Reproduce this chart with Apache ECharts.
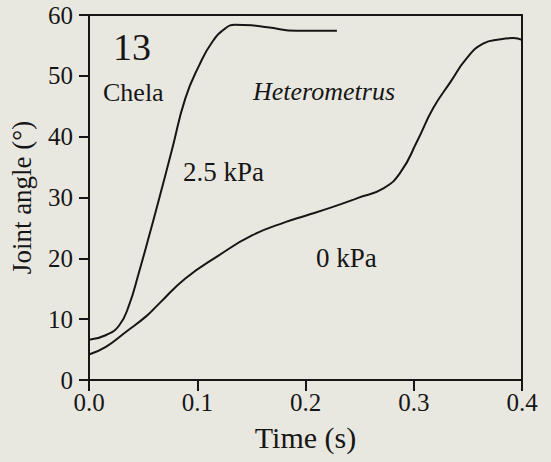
<!DOCTYPE html>
<html lang="en">
<head>
    <meta charset="UTF-8">
    <script src="https://cdn.jsdelivr.net/npm/echarts@6/dist/echarts.min.js"></script>
    <title>Joint angle</title>
    <style>
        html, body { margin: 0; padding: 0; background: #e9e8e0; }
        #main { width: 551px; height: 462px; }
    </style>
</head>
<body>
    <div id="main"></div>
<script>
    // 2.5 kPa curve
    let t25 = [0.000, 0.016, 0.028, 0.037, 0.046, 0.056, 0.063, 0.077, 0.089, 0.102, 0.114, 0.126, 0.135, 0.150, 0.165, 0.192, 0.229];
    let v25 = [6.6, 7.4, 9.0, 12.3, 17.6, 24.0, 28.6, 38.1, 46.3, 51.8, 55.6, 57.8, 58.4, 58.3, 58.0, 57.4, 57.4];
    // 0 kPa curve
    let t0 = [0.000, 0.016, 0.034, 0.053, 0.065, 0.089, 0.120, 0.151, 0.182, 0.200, 0.226, 0.248, 0.272, 0.288, 0.303, 0.318, 0.334, 0.349, 0.364, 0.380, 0.392, 0.400];
    let v0 = [4.2, 5.5, 7.9, 10.5, 12.6, 16.7, 20.5, 23.8, 26.0, 27.0, 28.5, 29.9, 31.5, 34.2, 39.2, 44.7, 49.0, 52.9, 55.3, 56.0, 56.2, 55.9];

    let xTicks = { min: 0, max: 0.4, interval: 0.1 };
    let yTicks = { min: 0, max: 60, interval: 10 };

    let ink = '#161616';
    let serif = 'Liberation Serif';

    let myChart = echarts.init(document.getElementById('main'), null, { renderer: 'svg' });
    let pair = (xs, ys) => xs.map((x, i) => [x, ys[i]]);
    let note = (text, x, y, size, italic) => ({
        type: 'text', x: x, y: y,
        style: {
            text: text, fill: ink, fontFamily: serif, fontSize: size,
            fontStyle: italic ? 'italic' : 'normal', verticalAlign: 'middle'
        }
    });

    let option = {
        backgroundColor: '#e9e8e0',
        animation: false,
        grid: {
            left: 88, top: 15, right: 29, bottom: 82,
            show: true, borderColor: ink, borderWidth: 2,
            backgroundColor: 'transparent'
        },
        xAxis: {
            type: 'value',
            min: xTicks.min, max: xTicks.max, interval: xTicks.interval,
            name: 'Time (s)',
            nameLocation: 'middle',
            nameGap: 42,
            nameTextStyle: { fontFamily: serif, fontSize: 30, color: ink },
            axisLine: { lineStyle: { color: ink, width: 2 } },
            axisTick: { length: 11, lineStyle: { color: ink, width: 2 } },
            axisLabel: {
                fontFamily: serif, fontSize: 25, color: ink, margin: 10,
                formatter: v => v.toFixed(1)
            },
            splitLine: { show: false }
        },
        yAxis: {
            type: 'value',
            min: yTicks.min, max: yTicks.max, interval: yTicks.interval,
            name: 'Joint angle (°)',
            nameLocation: 'middle',
            nameGap: 54,
            nameTextStyle: { fontFamily: serif, fontSize: 27, color: ink },
            axisLine: { lineStyle: { color: ink, width: 2 } },
            axisTick: { length: 10, lineStyle: { color: ink, width: 2 } },
            axisLabel: { fontFamily: serif, fontSize: 25, color: ink, margin: 16 },
            splitLine: { show: false }
        },
        graphic: [
            note('13', 113, 47, 38),
            note('Chela', 103, 92, 26),
            note('Heterometrus', 253, 91, 26, true),
            note('2.5 kPa', 183, 172, 27),
            note('0 kPa', 316, 258, 27)
        ],
        series: [
            {
                name: '2.5 kPa',
                type: 'line',
                data: pair(t25, v25),
                smooth: 0.5,
                showSymbol: false,
                lineStyle: { color: ink, width: 2 }
            },
            {
                name: '0 kPa',
                type: 'line',
                data: pair(t0, v0),
                smooth: 0.5,
                showSymbol: false,
                lineStyle: { color: ink, width: 2 }
            }
        ]
    };

    myChart.setOption(option);
</script>
</body>
</html>
